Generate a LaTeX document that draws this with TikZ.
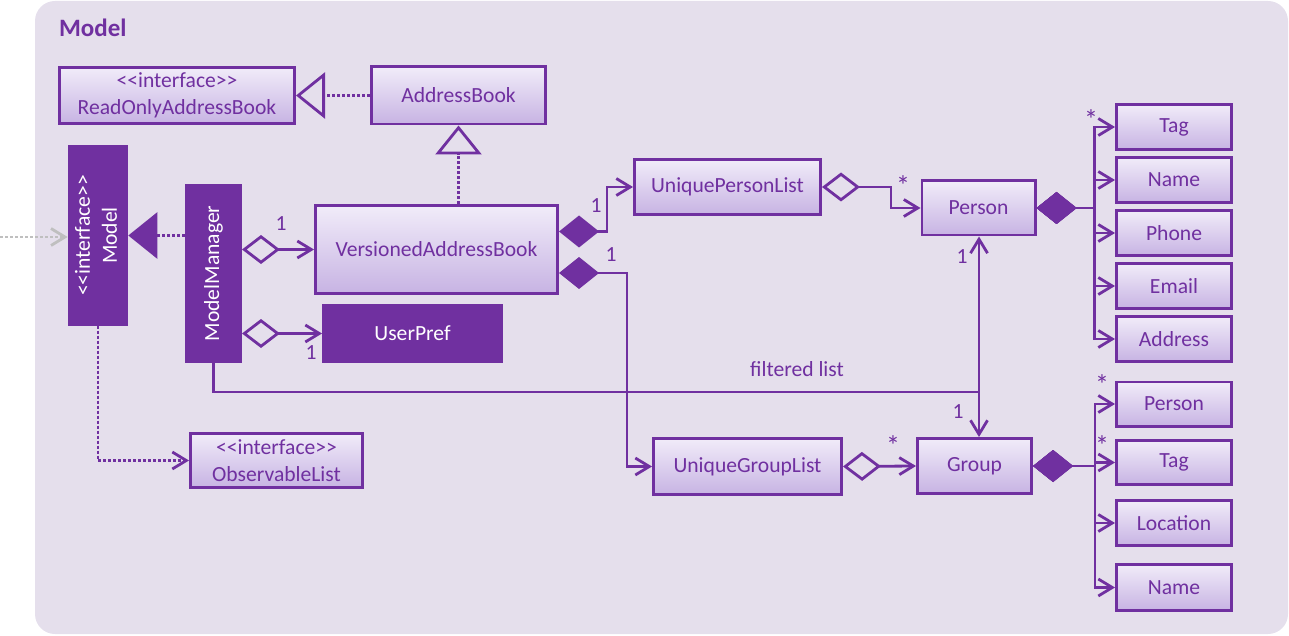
\documentclass[tikz,border=0pt]{standalone}
\usepackage{fontspec}
\setmainfont{Carlito}
\usetikzlibrary{positioning, arrows.meta}
\definecolor{umlpurple}{HTML}{7030A0}
\definecolor{bgpurple}{HTML}{E5DFEC}
\definecolor{boxtop}{HTML}{F1ECF9}
\definecolor{boxbot}{HTML}{C7B3E3}
\definecolor{extgray}{HTML}{BFBFBF}
\newcommand\umlfont{\fontsize{10.8}{13.5}\selectfont}
\newcommand\stereo[1]{<\kern0pt<#1>\kern0pt>}
\tikzset{
	classbox/.style={
		draw=umlpurple,
		line width=1.3pt,
		top color=boxtop,
		bottom color=boxbot,
		text=umlpurple,
		align=center,
		font=\umlfont,
		inner sep=1pt
	},
	solidbox/.style={
		draw=umlpurple,
		fill=umlpurple,
		line width=1.3pt,
		text=white,
		align=center,
		font=\umlfont,
		inner sep=1pt
	},
	mult/.style={
		text=umlpurple,
		font=\umlfont,
		inner sep=0.5pt
	},
	many/.style={
		mult,
		font=\fontsize{14}{14}\selectfont
	},
	link/.style={draw=umlpurple, line width=1.4pt},
	dots/.style={dash pattern=on 1.5pt off 1pt},
	assoc/.style={link, -{Straight Barb[length=7pt,width=8.5pt]}},
	aggr/.style={link, {Diamond[open,length=19pt,width=14.5pt]}-{Straight Barb[length=7pt,width=8.5pt]}},
	compo/.style={link, {Diamond[length=20pt,width=16pt]}-{Straight Barb[length=7pt,width=8.5pt]}},
	realize/.style={link, dots, -{Triangle[open,length=14.5pt,width=23pt]}},
	implem/.style={link, dots, -{Triangle[length=14.5pt,width=23pt]}},
	uses/.style={link, dots, -{Straight Barb[length=7pt,width=8.5pt]}}
}

\begin{document}
\begin{tikzpicture}[x=0.5pt, y=-0.5pt]
	\useasboundingbox (0,0) rectangle (1289,636);
	\fill[bgpurple, rounded corners=10pt] (35,1) rectangle (1288,634);
	\node(title)[anchor=west, text=umlpurple, font=\fontsize{12.5}{14}\selectfont\bfseries] at (52,28) {Model};

	% address books
	\node(roab)[classbox, minimum width=117.7pt, minimum height=28.2pt] at (177,95.5) {\stereo{interface}\\ReadOnlyAddressBook};
	\node(ab)[classbox, minimum width=87.2pt, minimum height=28.7pt, right=37pt of roab] {AddressBook};
	\node(vab)[classbox, minimum width=121.2pt, minimum height=44.2pt] at (436.5,249.5) {VersionedAddressBook};

	% model side
	\node(model)[solidbox, minimum width=27.7pt, minimum height=88.7pt] at (98,235.5) {\rotatebox{90}{\begin{tabular}{@{}c@{}}\stereo{interface}\\Model\end{tabular}}};
	\node(mm)[solidbox, minimum width=27.2pt, minimum height=88.2pt] at (213.5,273.5) {\rotatebox{90}{ModelManager}};
	\node(up)[solidbox, minimum width=89.2pt, minimum height=28.2pt] at (412.5,333.5) {UserPref};
	\node(obsl)[classbox, minimum width=86.2pt, minimum height=27.2pt] at (276.5,460.5) {\stereo{interface}\\ObservableList};

	% lists
	\node(upl)[classbox, minimum width=93.2pt, minimum height=27.7pt] at (727.5,187) {UniquePersonList};
	\node(ugl)[classbox, minimum width=94.2pt, minimum height=28.2pt] at (747.5,466.5) {UniqueGroupList};
	\node(person)[classbox, minimum width=56.7pt, minimum height=27.2pt] at (978.5,208) {Person};
	\node(group)[classbox, minimum width=57.2pt, minimum height=27.7pt] at (974.5,466) {Group};

	% person fields
	\node(ptag)[classbox, minimum width=57.7pt, minimum height=22.7pt] at (1174,127) {Tag};
	\node(pname)[classbox, minimum width=57.7pt, minimum height=22.7pt, below=2.5pt of ptag] {Name};
	\node(pphone)[classbox, minimum width=57.7pt, minimum height=22.7pt, below=2.5pt of pname] {Phone};
	\node(pemail)[classbox, minimum width=57.7pt, minimum height=22.7pt, below=2.5pt of pphone] {Email};
	\node(paddr)[classbox, minimum width=57.7pt, minimum height=22.7pt, below=2.5pt of pemail] {Address};

	% group fields
	\node(gperson)[classbox, minimum width=57.7pt, minimum height=22.2pt] at (1174,404) {Person};
	\node(gtag)[classbox, minimum width=57.7pt, minimum height=22.2pt] at (1174,462.5) {Tag};
	\node(gloc)[classbox, minimum width=57.7pt, minimum height=22.7pt] at (1174,523) {Location};
	\node(gname)[classbox, minimum width=57.7pt, minimum height=23.2pt] at (1174,587.5) {Name};

	% inheritance
	\draw[realize] (ab) -- (roab);
	\draw[realize] (vab.north -| ab.south) -- (ab.south);
	\draw[implem] (mm.west |- model.east) -- (model.east);
	\coordinate (ext) at (0,237);
	\draw[uses, draw=extgray] (ext) -- (model.west |- ext);
	\draw[uses] (model.south) |- (obsl.west);

	% associations
	\draw[aggr] (mm.east |- vab.west) -- (vab.west);
	\draw[aggr] (mm.east |- up.west) -- (up.west);
	\draw[compo] ([yshift=9pt]vab.east) -- ++(48,0) |- (upl.west);
	\draw[compo] ([yshift=-11.75pt]vab.east) -- ++(68,0) |- (ugl.west);
	\draw[aggr] (upl.east) -- ++(69,0) |- (person.west);
	\draw[aggr] (ugl.east) -- (group.west);

	\coordinate (ptrunk) at ([xshift=29pt]person.east);
	\foreach \field in {ptag,pname,pphone,pemail,paddr}
		\draw[compo] (person.east) -- (ptrunk) |- (\field.west);
	\coordinate (gtrunk) at ([xshift=31pt]group.east);
	\foreach \field in {gperson,gtag,gloc,gname}
		\draw[compo] (group.east) -- (gtrunk) |- (\field.west);

	\coordinate (fl) at (979,392);
	\draw[assoc] (mm.south) |- (fl) -- (person.south -| fl);
	\draw[assoc] (mm.south) |- (fl) -- (group.north -| fl);
	\node(fltext)[mult] at (797,369) {filtered list};

	% multiplicities
	\node(m1)[mult] at (281,224) {1};
	\node(m2)[mult] at (311,353) {1};
	\node(m3)[mult] at (596,206) {1};
	\node(m4)[mult] at (611,255) {1};
	\node(m5)[many] at (903,186) {*};
	\node(m6)[mult] at (962,257) {1};
	\node(m7)[mult] at (958,412) {1};
	\node(m8)[many] at (893,446) {*};
	\node(m9)[many] at (1091,120) {*};
	\node(m10)[many] at (1102,385) {*};
	\node(m11)[many] at (1102,446) {*};
\end{tikzpicture}
\end{document}
